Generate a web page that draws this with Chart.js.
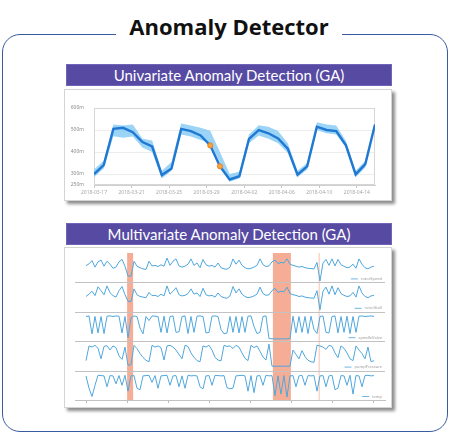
<!DOCTYPE html>
<html>
<head>
<meta charset="utf-8">
<script src="https://cdn.jsdelivr.net/npm/chart.js@4/dist/chart.umd.min.js"></script>
<style>
  html, body { margin: 0; padding: 0; background: #fff; }
  #page { position: relative; width: 450px; height: 434px; overflow: hidden; background: #fff; }
  .frame { position: absolute; left: 2px; top: 34px; width: 446px; height: 398px; box-sizing: border-box;
           border: 1.6px solid #3a5ba0; border-radius: 18px; }
  .title { position: absolute; left: 116px; top: 9px; width: 226px; height: 34px; background: #fff;
           font: bold 22px "Open Sans", sans-serif; color: #111; text-align: center; line-height: 34px; }
  .banner { position: absolute; left: 66px; width: 326px; height: 22px; background: #574aa3;
            box-sizing: border-box; border: 1px solid #6f64b8;
            font: 15px Lato, sans-serif; color: #fff; text-align: center; line-height: 20px; }
  .card { position: absolute; left: 64px; width: 328px; background: #fff; box-sizing: border-box;
          border: 1px solid #d4d4d4; box-shadow: 3px 3px 3px rgba(0,0,0,0.45); }
  .holder { position: absolute; overflow: hidden; }
  canvas { position: absolute; left: 0; }
</style>
</head>
<body>
<div id="page">
  <div class="frame"></div>
  <div class="title">Anomaly Detector</div>

  <div class="banner" style="top:64px">Univariate Anomaly Detection (GA)</div>
  <div class="card" style="top:89px;height:112px"></div>
  <div class="holder" style="left:66px;top:101px;width:322px;height:98px">
    <canvas id="uni" width="322" height="104" style="top:-6px"></canvas>
  </div>

  <div class="banner" style="top:223px">Multivariate Anomaly Detection (GA)</div>
  <div class="card" style="top:247px;height:161px"></div>
  <div class="holder" style="left:66px;top:250px;width:322px;height:156px">
    <canvas id="multi" width="322" height="156" style="top:0"></canvas>
  </div>
</div>

<script>
// ---------- Univariate series (values in milli-units) ----------
const dateLabels = ['2018-03-17', '2018-03-21', '2018-03-25', '2018-03-29',
                    '2018-04-02', '2018-04-06', '2018-04-10', '2018-04-14'];
const yTickValues = [250, 300, 400, 500, 600];
const observed = [300, 340, 505, 510, 490, 445, 425, 295, 325, 505,
                  495, 475, 430, 335, 275, 290, 460, 500, 485, 462,
                  415, 297, 335, 515, 500, 495, 430, 298, 345, 525];
const expectedUpper = [320, 360, 525, 520, 525, 460, 452, 315, 355, 530,
                       520, 510, 497, 400, 300, 310, 480, 522, 515, 495,
                       440, 315, 350, 535, 525, 520, 450, 315, 360, 530];
const expectedLower = [285, 325, 472, 465, 470, 420, 400, 280, 315, 480,
                       470, 455, 440, 352, 265, 280, 440, 475, 460, 440,
                       395, 285, 320, 500, 485, 480, 420, 285, 330, 515];
const anomalyIndices = [12, 13];
const daysPerDateTick = 3.875;

// ---------- Multivariate series (normalised 0-100 per variable) ----------
const variableNames = ['rotorSpeed', 'rotorStall', 'spindleValve', 'pumpPressure', 'temp'];
const rotorSpeed = [57,63,74,52,70,76,55,72,62,48,
  52,70,78,55,22,21,72,55,50,46,
  44,72,56,58,54,60,55,83,58,72,
  80,56,52,55,62,80,58,66,50,78,
  60,55,58,52,66,50,46,45,52,80,
  62,76,58,50,46,48,52,58,80,60,
  54,56,70,76,64,68,66,80,62,58,
  55,52,54,50,48,47,46,68,5,66,
  78,58,80,56,78,60,55,50,52,62,
  48,80,62,50,46,52,55];
const rotorStall = [52,60,70,55,85,72,58,88,65,55,
  50,72,86,58,36,35,78,58,52,50,
  48,66,55,56,52,60,54,88,60,70,
  82,58,54,56,62,78,60,64,52,80,
  58,54,56,50,64,52,48,46,54,86,
  64,78,60,52,48,50,54,60,84,62,
  56,58,72,80,66,70,68,84,62,58,
  56,52,54,50,48,47,46,72,7,70,
  84,60,88,58,82,62,56,52,54,66,
  50,88,64,52,48,54,56];
const spindleValve = [84,86,25,84,28,84,26,85,86,84,
  86,85,28,84,12,80,86,84,45,25,
  84,70,86,85,84,30,85,28,84,86,
  30,32,84,86,26,84,30,85,86,84,
  28,30,85,86,84,40,25,28,84,30,
  84,28,84,30,85,86,50,26,30,84,
  86,9,8,8,8,8,8,8,9,85,
  28,84,30,84,26,85,40,26,84,86,
  30,28,84,86,28,84,30,85,26,84,
  30,85,86,84,85,86,84];
const pumpPressure = [34,84,80,86,76,40,82,85,70,84,
  78,50,38,80,18,20,86,75,58,45,
  35,30,86,80,84,78,36,84,86,80,
  70,55,40,86,82,60,45,34,30,84,
  80,86,70,45,36,33,86,82,84,75,
  86,80,60,42,34,86,78,84,66,46,
  36,90,15,15,15,15,15,15,15,70,
  55,40,68,48,35,30,28,86,84,80,
  72,86,82,60,44,84,76,60,40,34,
  84,70,58,40,80,30,34];
const temp = [82,40,12,50,84,83,82,45,83,82,
  55,83,50,84,30,82,83,40,35,82,
  83,84,60,83,40,82,83,84,50,82,
  83,45,82,40,84,82,83,82,45,38,
  82,83,50,84,83,82,83,42,38,40,
  82,83,84,82,30,83,25,82,83,50,
  84,82,83,15,82,20,83,10,82,83,
  45,82,84,50,83,82,83,30,82,83,
  45,82,84,35,40,83,82,50,84,20,
  83,82,45,83,84,82,83];
const multiSeries = [rotorSpeed, rotorStall, spindleValve, pumpPressure, temp];
const anomalyWindows = [[13.7, 15.7], [62.3, 68.3]];
const anomalyMarks = [77.7];
const axisTickCount = 8;

const tickFont = { family: '"Noto Sans", sans-serif', size: 5 };

// ---------- Univariate chart ----------
const plotFrame = {
  id: 'plotFrame',
  beforeDatasetsDraw(chart) {
    const { ctx, chartArea: a } = chart;
    ctx.save();
    ctx.strokeStyle = '#d6d6d6';
    ctx.lineWidth = 1;
    ctx.strokeRect(a.left + 0.5, a.top + 0.5, a.width - 1, a.height - 1);
    ctx.restore();
  }
};

const toXY = arr => arr.map((v, i) => ({ x: i, y: v }));

new Chart(document.getElementById('uni'), {
  type: 'line',
  data: {
    datasets: [
      {
        data: toXY(observed), order: 0,
        borderColor: '#1f78d1', borderWidth: 2.4, tension: 0, fill: false,
        pointRadius: ctx => anomalyIndices.includes(ctx.dataIndex) ? 2.6 : 0,
        pointBackgroundColor: '#f6a23e', pointBorderColor: '#e8822a', pointBorderWidth: 1
      },
      {
        data: toXY(expectedUpper), order: 1,
        borderWidth: 0, pointRadius: 0, tension: 0,
        fill: '+1', backgroundColor: 'rgba(122,198,244,0.75)'
      },
      {
        data: toXY(expectedLower), order: 2,
        borderWidth: 0, pointRadius: 0, tension: 0, fill: false
      }
    ]
  },
  options: {
    responsive: false, animation: false, devicePixelRatio: 1,
    layout: { padding: { left: 0, top: 8, right: 13, bottom: 0 } },
    plugins: { legend: { display: false }, tooltip: { enabled: false } },
    scales: {
      x: {
        type: 'linear', min: 0, max: observed.length - 1,
        afterBuildTicks: s => { s.ticks = dateLabels.map((_, k) => ({ value: k * daysPerDateTick })); },
        afterFit: s => { s.height = 14; },
        ticks: {
          font: tickFont, color: '#a8a8a8', padding: 2, maxRotation: 0, autoSkip: false,
          callback: (v, k) => dateLabels[k]
        },
        grid: { display: true, drawOnChartArea: false, drawTicks: true, tickLength: 3, color: '#c4c4c4' },
        border: { display: true, color: '#cfcfcf' }
      },
      y: {
        type: 'linear', min: 250, max: 600,
        afterBuildTicks: s => { s.ticks = yTickValues.map(v => ({ value: v })); },
        afterFit: s => { s.width = 28; },
        ticks: { font: tickFont, color: '#8a8a8a', padding: 10, callback: v => v + 'm' },
        grid: { color: '#ececec', drawTicks: false },
        border: { display: false }
      }
    }
  },
  plugins: [plotFrame]
});

// ---------- Multivariate chart ----------
const panelDecor = {
  id: 'panelDecor',
  beforeDatasetsDraw(chart) {
    const { ctx, chartArea: a, scales } = chart;
    const x = scales.x;
    ctx.save();
    ctx.fillStyle = 'rgba(243,150,120,0.78)';
    anomalyWindows.forEach(([from, to]) => {
      const l = x.getPixelForValue(from), r = x.getPixelForValue(to);
      ctx.fillRect(l, a.top, r - l, a.bottom - a.top);
    });
    ctx.fillStyle = 'rgba(246,190,170,0.8)';
    anomalyMarks.forEach(m => {
      ctx.fillRect(x.getPixelForValue(m) - 0.5, a.top, 1.2, a.bottom - a.top);
    });
    ctx.strokeStyle = '#c2c2c2';
    ctx.lineWidth = 1;
    multiSeries.slice(0, -1).forEach((_, k) => {
      const y = Math.round(scales['y' + k].bottom) + 0.5;
      ctx.beginPath(); ctx.moveTo(a.left, y); ctx.lineTo(a.right, y); ctx.stroke();
    });
    ctx.restore();
  },
  afterDatasetsDraw(chart) {
    const { ctx, chartArea: a, scales } = chart;
    ctx.save();
    ctx.font = '4px "Noto Sans", sans-serif';
    ctx.textBaseline = 'middle';
    ctx.textAlign = 'right';
    variableNames.forEach((name, k) => {
      const y = scales['y' + k].bottom - 3.5;
      const tx = a.right - 3;
      const w = ctx.measureText(name).width;
      ctx.fillStyle = '#9a9a9a';
      ctx.fillText(name, tx, y);
      ctx.strokeStyle = '#6fb6e4';
      ctx.lineWidth = 1;
      ctx.beginPath(); ctx.moveTo(tx - w - 10, y); ctx.lineTo(tx - w - 3, y); ctx.stroke();
    });
    ctx.restore();
  }
};

// Left-side stacked scales are laid out last-declared-first, so declare them
// bottom panel first to get the first variable on top.
const panelScales = {};
for (let k = multiSeries.length - 1; k >= 0; k--) {
  panelScales['y' + k] = {
    type: 'linear', position: 'left', stack: 'panels', stackWeight: 1,
    min: 0, max: 100,
    afterFit: s => { s.width = 0; },
    ticks: { display: false }, grid: { display: false }, border: { display: false }
  };
}

const lastStep = rotorSpeed.length - 1;
new Chart(document.getElementById('multi'), {
  type: 'line',
  data: {
    datasets: multiSeries.map((series, k) => ({
      label: variableNames[k], data: toXY(series), yAxisID: 'y' + k,
      borderColor: '#4fa7dd', borderWidth: 1, pointRadius: 0, tension: 0, fill: false
    }))
  },
  options: {
    responsive: false, animation: false, devicePixelRatio: 1,
    layout: { padding: { left: 9, top: 3, right: 3, bottom: 2 } },
    plugins: { legend: { display: false }, tooltip: { enabled: false } },
    scales: Object.assign({
      x: {
        type: 'linear', min: -3.67, max: lastStep + 3.67,
        afterBuildTicks: s => {
          s.ticks = Array.from({ length: axisTickCount }, (_, k) => ({ value: k * lastStep / (axisTickCount - 1) }));
        },
        afterFit: s => { s.height = 4; },
        ticks: { display: false },
        grid: { display: true, drawOnChartArea: false, drawTicks: true, tickLength: 3, color: '#bdbdbd' },
        border: { display: true, color: '#c2c2c2' }
      }
    }, panelScales)
  },
  plugins: [panelDecor]
});
</script>
</body>
</html>
